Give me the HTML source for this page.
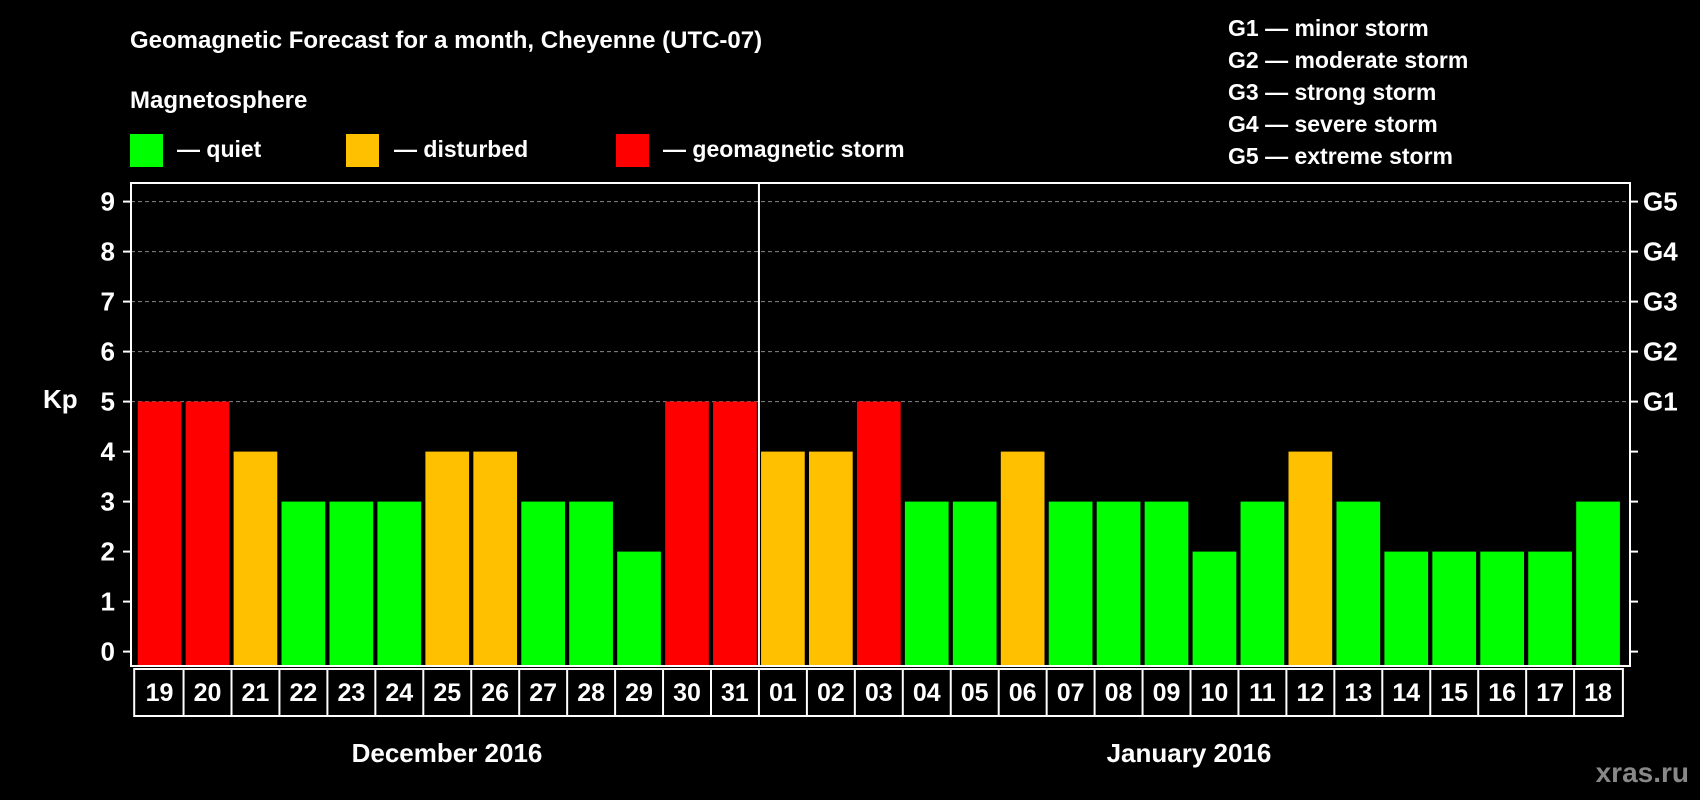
<!DOCTYPE html>
<html><head><meta charset="utf-8"><style>
html,body{margin:0;padding:0;background:#000;}
svg{display:block;font-family:"Liberation Sans",Arial,sans-serif;font-weight:bold;}
</style></head><body>
<svg id="chart" width="1700" height="800" viewBox="0 0 1700 800">
<rect x="0" y="0" width="1700" height="800" fill="#000"/>
<text x="130" y="48" fill="#fff" font-size="24">Geomagnetic Forecast for a month, Cheyenne (UTC-07)</text>
<text x="130" y="108" fill="#fff" font-size="24">Magnetosphere</text>
<g>
<rect x="130" y="134" width="33" height="33" fill="#00ff00"/>
<text x="177" y="157" fill="#fff" font-size="23">— quiet</text></g>
<g>
<rect x="346" y="134" width="33" height="33" fill="#ffc000"/>
<text x="394" y="157" fill="#fff" font-size="23">— disturbed</text></g>
<g>
<rect x="616" y="134" width="33" height="33" fill="#ff0000"/>
<text x="663" y="157" fill="#fff" font-size="23">— geomagnetic storm</text></g>
<g font-size="23" fill="#fff">
<text x="1228" y="36">G1 — minor storm</text>
<text x="1228" y="68">G2 — moderate storm</text>
<text x="1228" y="100">G3 — strong storm</text>
<text x="1228" y="132">G4 — severe storm</text>
<text x="1228" y="164">G5 — extreme storm</text>
</g>
<text x="43" y="408" fill="#fff" font-size="26">Kp</text>
<g id="grid"></g><g id="bars"></g><g id="axes"></g>
<text x="447" y="762" fill="#fff" font-size="26" text-anchor="middle">December 2016</text>
<text x="1189" y="762" fill="#fff" font-size="26" text-anchor="middle">January 2016</text>
<text x="1689" y="782" fill="#888" font-size="28" text-anchor="end">xras.ru</text>
</svg>
<script>
const days = ["19","20","21","22","23","24","25","26","27","28","29","30","31","01","02","03","04","05","06","07","08","09","10","11","12","13","14","15","16","17","18"];
const kpValues = [5,5,4,3,3,3,4,4,3,3,2,5,5,4,4,5,3,3,4,3,3,3,2,3,4,3,2,2,2,2,3];
const yTicks = [0,1,2,3,4,5,6,7,8,9];
const gLabels = ["G1","G2","G3","G4","G5"];
const gLevels = [5,6,7,8,9];
const NS="http://www.w3.org/2000/svg";
const plotL=131, plotR=1630, plotT=183, plotB=666, x0=137.7, pitch=47.95, bw=43.7;
const y=v=>651.6-50*v;
const x=i=>x0+i*pitch;
function mk(tag,attrs,parent){const e=document.createElementNS(NS,tag);for(const k in attrs)e.setAttribute(k,attrs[k]);parent.appendChild(e);return e;}
const grid=document.getElementById('grid'),bars=document.getElementById('bars'),axes=document.getElementById('axes');
gLevels.forEach(v=>{const l=mk('line',{x1:plotL,x2:plotR,y1:y(v),y2:y(v),stroke:'#888','stroke-width':1,'stroke-dasharray':'4,3'},grid);

});
kpValues.forEach((v,i)=>{const c=v>=5?'#ff0000':(v>=4?'#ffc000':'#00ff00');
const r=mk('rect',{x:x(i),y:y(v),width:bw,height:plotB-y(v),fill:c},bars);

});
const frame=mk('rect',{x:plotL,y:plotT,width:plotR-plotL,height:plotB-plotT,fill:'none',stroke:'#fff','stroke-width':2},axes);


const sep=mk('line',{x1:x(13)-2.1,x2:x(13)-2.1,y1:plotT,y2:plotB,stroke:'#fff','stroke-width':2},axes);


yTicks.forEach(v=>{
const t=mk('line',{x1:123,x2:plotL,y1:y(v),y2:y(v),stroke:'#fff','stroke-width':2},axes);


const t2=mk('line',{x1:plotR,x2:plotR+8,y1:y(v),y2:y(v),stroke:'#fff','stroke-width':2},axes);


const tx=mk('text',{x:115,y:y(v)+9,fill:'#fff','font-size':26,'text-anchor':'end'},axes);tx.textContent=v;

});
gLabels.forEach((g,i)=>{const tx=mk('text',{x:1643,y:y(gLevels[i])+9,fill:'#fff','font-size':26},axes);tx.textContent=g;

});
const boxL=x(0)-3.5, boxR=x(days.length-1)+bw+3;
const lb=mk('rect',{x:boxL,y:669,width:boxR-boxL,height:47,fill:'none',stroke:'#fff','stroke-width':2},axes);


days.forEach((d,i)=>{
if(i>0){const dl=mk('line',{x1:x(i)-2.1,x2:x(i)-2.1,y1:669,y2:716,stroke:'#fff','stroke-width':2},axes);

}
const tx=mk('text',{x:x(i)+bw/2,y:701,fill:'#fff','font-size':25,'text-anchor':'middle'},axes);tx.textContent=d;

});
</script>
</body></html>
